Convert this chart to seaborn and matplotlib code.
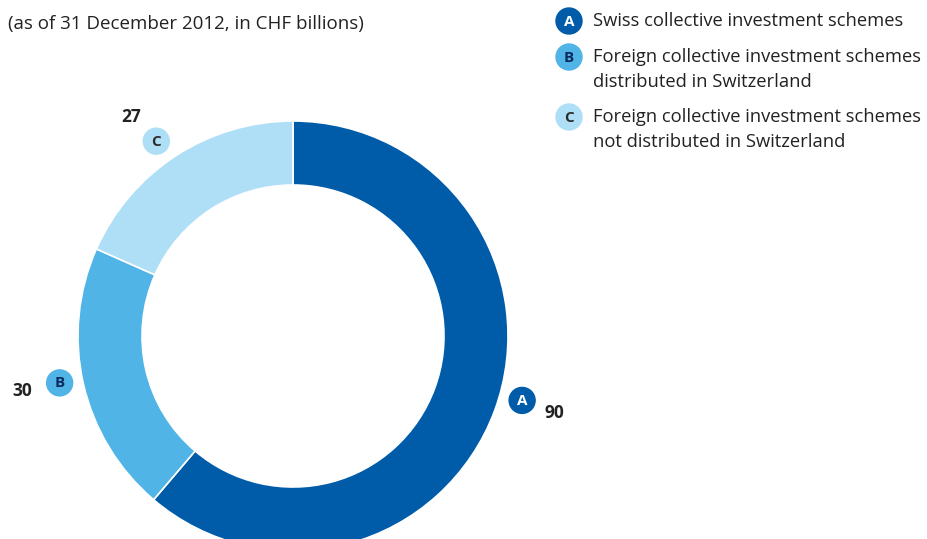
import numpy as np
import matplotlib
matplotlib.use("Agg")
import matplotlib.pyplot as plt
import seaborn as sns

# data
letters = ["A", "B", "C"]
values = [90, 30, 27]
legend_labels = [
    "Swiss collective investment schemes",
    "Foreign collective investment schemes\ndistributed in Switzerland",
    "Foreign collective investment schemes\nnot distributed in Switzerland",
]
colors = ["#005CA9", "#50B4E6", "#AEDFF7"]
badge_text_colors = ["white", "#0A2A5E", "#2A2A2A"]
subtitle = "(as of 31 December 2012, in CHF billions)"

sns.set_theme(style="white")
plt.rcParams["font.family"] = ["Open Sans", "DejaVu Sans"]

W, H = 928, 539
fig = plt.figure(figsize=(W / 100, H / 100), dpi=100)
ax = fig.add_axes([0, 0, 1, 1])

# donut, pixel units, y measured from the bottom
cx, cy, r_out, ring = 293, H - 336, 215, 64
wedges, _ = ax.pie(values, colors=colors, startangle=90, counterclock=False,
                   center=(cx, cy), radius=r_out, frame=True,
                   wedgeprops=dict(width=ring, edgecolor="white", linewidth=1.2))
ax.set_xlim(0, W)
ax.set_ylim(0, H)
ax.axis("off")

# badge angle tweaks and value label offsets (pixels)
angle_shift = [4.5, -1.5, 2.0]
num_offset = [(32, -13), (-37, -8), (-25, 24)]
r_badge = 238
text_col = "#222222"


def badge(x, y, letter, face, tc):
    ax.add_patch(plt.Circle((x, y), 13, color=face, zorder=5))
    ax.text(x, y - 0.5, letter, ha="center", va="center", fontsize=11,
            fontweight="bold", color=tc, zorder=6)


for i, w in enumerate(wedges):
    mid = np.deg2rad((w.theta1 + w.theta2) / 2 + angle_shift[i])
    bx = cx + r_badge * np.cos(mid)
    by = cy + r_badge * np.sin(mid)
    badge(bx, by, letters[i], colors[i], badge_text_colors[i])
    ax.text(bx + num_offset[i][0], by + num_offset[i][1], str(values[i]),
            ha="center", va="center", fontsize=12.5, fontweight="bold",
            color=text_col)

# subtitle
ax.text(8, H - 24, subtitle, ha="left", va="center", fontsize=13.5, color=text_col)

# legend
leg_y = [21, 57, 117]
for i, lab in enumerate(legend_labels):
    badge(569, H - leg_y[i], letters[i], colors[i], badge_text_colors[i])
    ax.text(593, H - leg_y[i] + 9, lab, ha="left", va="top",
            fontsize=13.2, color=text_col, linespacing=1.5)

fig.savefig("out.png", dpi=100)
